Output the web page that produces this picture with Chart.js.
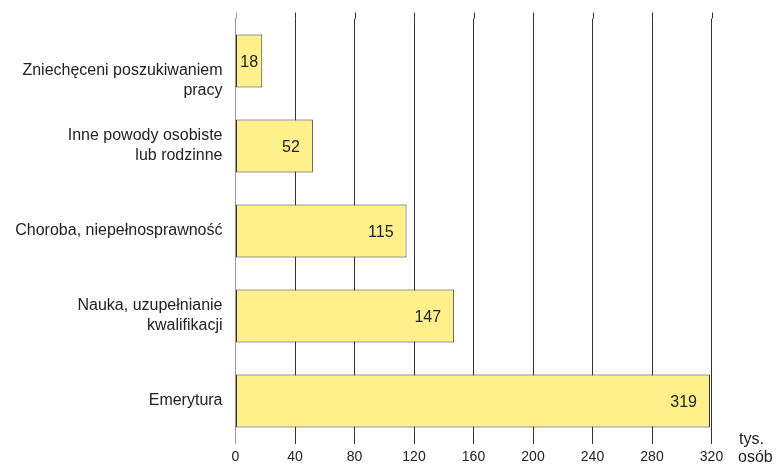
<!DOCTYPE html>
<html>
<head>
<meta charset="utf-8">
<script src="https://cdn.jsdelivr.net/npm/chart.js@4"></script>
<style>
  body { margin: 0; background: #ffffff; }
  canvas { display: block; }
</style>
</head>
<body>
<canvas id="chart" width="776" height="464"></canvas>
<script>
// Dane wykresu
const kategorie = [
    ["", "", "Zniechęceni poszukiwaniem", "pracy"],
    ["Inne powody osobiste", "lub rodzinne"],
    "Choroba, niepełnosprawność",
    ["Nauka, uzupełnianie", "kwalifikacji"],
    "Emerytura"
];
const wartosci = [18, 52, 115, 147, 319];
const osX = { min: 0, max: 320, krok: 40 };
const jednostka = ["tys.", "osób"];

const FONT = "'Liberation Sans', Arial, sans-serif";

// Etykiety wartości wewnątrz słupków
const etykietyWartosci = {
    id: "etykietyWartosci",
    afterDatasetsDraw(chart) {
        const ctx = chart.ctx;
        const meta = chart.getDatasetMeta(0);
        ctx.save();
        ctx.font = "16px " + FONT;
        ctx.fillStyle = "#222";
        ctx.textBaseline = "middle";
        meta.data.forEach((bar, i) => {
            const txt = String(wartosci[i]);
            const w = ctx.measureText(txt).width;
            const dl = bar.x - bar.base;
            if (w + 24 > dl) {
                ctx.textAlign = "center";
                ctx.fillText(txt, (bar.x + bar.base) / 2, bar.y + 2);
            } else {
                ctx.textAlign = "right";
                ctx.fillText(txt, bar.x - 13, bar.y + 2);
            }
        });
        ctx.restore();
    }
};

// Przedłużenie linii siatki nad obszar wykresu + jednostka osi
const dodatki = {
    id: "dodatki",
    afterDraw(chart) {
        const ctx = chart.ctx;
        const x = chart.scales.x;
        const top = chart.chartArea.top;
        ctx.save();
        ctx.lineWidth = 1;
        x.ticks.forEach(t => {
            const px = Math.round(x.getPixelForValue(t.value)) + 0.5;
            ctx.strokeStyle = t.value === 0 ? "#999" : "#333";
            ctx.beginPath();
            ctx.moveTo(px, top - 6);
            ctx.lineTo(px, top);
            ctx.stroke();
        });
        ctx.font = "16px " + FONT;
        ctx.fillStyle = "#222";
        ctx.textAlign = "left";
        ctx.textBaseline = "middle";
        ctx.fillText(jednostka[0], 739, 440);
        ctx.fillText(jednostka[1], 738, 458);
        ctx.restore();
    }
};

new Chart(document.getElementById("chart"), {
    type: "bar",
    data: {
        labels: kategorie,
        datasets: [{
            data: wartosci,
            backgroundColor: "#fff08c",
            borderColor: "#333",
            borderWidth: 1,
            borderSkipped: false,
            barPercentage: 0.624,
            categoryPercentage: 1
        }]
    },
    options: {
        indexAxis: "y",
        responsive: false,
        animation: false,
        layout: { padding: { top: 18.5, right: 64.5, left: 0, bottom: 0 } },
        plugins: {
            legend: { display: false },
            tooltip: { enabled: false }
        },
        scales: {
            x: {
                min: osX.min,
                max: osX.max,
                afterFit(scale) { scale.height = 20.5; },
                ticks: {
                    stepSize: osX.krok,
                    color: "#222",
                    font: { family: FONT, size: 14 },
                    padding: 5
                },
                grid: {
                    drawTicks: false,
                    color: ctx => (ctx.tick && ctx.tick.value === 0) ? "#999" : "#333",
                    lineWidth: 1
                },
                border: { display: false }
            },
            y: {
                afterFit(scale) {
                    scale.width = 235.5;
                    scale.paddingTop = 0;
                    scale.paddingBottom = 0;
                },
                ticks: {
                    color: "#222",
                    font: { family: FONT, size: 16, lineHeight: 1.25 },
                    padding: 13
                },
                grid: { display: false, drawTicks: false },
                border: { display: true, color: "#999", width: 1 }
            }
        }
    },
    plugins: [etykietyWartosci, dodatki]
});
</script>
</body>
</html>
